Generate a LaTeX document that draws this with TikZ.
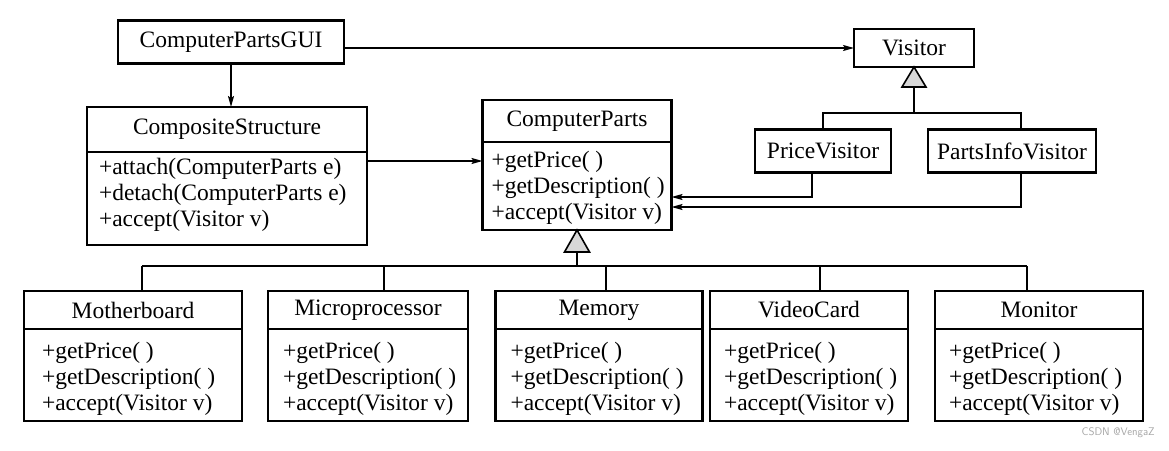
\documentclass[tikz,border=0pt]{standalone}
\usepackage{fontspec}
\setmainfont{Liberation Serif}
\usetikzlibrary{arrows.meta,calc}
\definecolor{trigray}{RGB}{215,215,215}
\tikzset{
  box/.style={draw, line width=2.2pt, fill=white, inner sep=0pt, outer sep=0pt},
  sepline/.style={line width=2pt},
  txt/.style={inner sep=0pt, outer sep=0pt, font=\fontsize{23.5}{26}\selectfont},
  conn/.style={line width=1.5pt},
  arr/.style={conn, -{Stealth[length=11pt,width=6pt,inset=2pt]}},
  tri/.style={draw, line width=1.6pt, fill=trigray, line join=miter},
  wmark/.style={inner sep=0pt, font=\sffamily\fontsize{11}{12}\selectfont, text=gray!70}
}
\newcommand\umlcls[9]{%
  \node[box, minimum width=#4, minimum height=#5] (#1) at (#2,#3) {};
  \draw[sepline] ($(#1.north west)+(0,#6)$) -- ($(#1.north east)+(0,#6)$);
  \node[txt] (#1-t) at ($(#1.north)+(0,#6/2)$) {#8};
  \foreach \m [count=\i] in {#9} {
    \pgfmathsetmacro\yy{67+(\i-1)*26}
    \node[txt, anchor=base west] (#1-m\i) at ($(#1.north west)+(#7,\yy)$) {\m};
  }%
}
\begin{document}
\begin{tikzpicture}[x=1pt,y=-1pt]
\useasboundingbox (0,0) rectangle (1169,450);
\fill[white] (0,0) rectangle (1169,450);

% simple classes
\node[box, minimum width=226, minimum height=43] (gui) at (231,42) {};
\node[txt] (gui-t) at (gui.center) {ComputerPartsGUI};
\node[box, minimum width=120, minimum height=38] (vis) at (914,48) {};
\node[txt] (vis-t) at (vis.center) {Visitor};
\node[box, minimum width=136, minimum height=43] (pv) at (823,151) {};
\node[txt] (pv-t) at (pv.center) {PriceVisitor};
\node[box, minimum width=168, minimum height=43] (piv) at (1012,151) {};
\node[txt] (piv-t) at (piv.center) {PartsInfoVisitor};

% classes with methods
\umlcls{cs}{227}{176}{280}{138}{45}{12}{CompositeStructure}{{+attach(ComputerParts e)},{+detach(ComputerParts e)},{+accept(Visitor v)}}
\umlcls{cp}{577}{165}{189}{130}{42}{9}{ComputerParts}{{+getPrice( )},{+getDescription( )},{+accept(Visitor v)}}
\umlcls{mb}{133}{356}{218}{130}{38}{18}{Motherboard}{{+getPrice( )},{+getDescription( )},{+accept(Visitor v)}}
\umlcls{mp}{368}{356}{200}{130}{38}{15}{Microprocessor}{{+getPrice( )},{+getDescription( )},{+accept(Visitor v)}}
\umlcls{mem}{599}{356}{207}{130}{38}{15}{Memory}{{+getPrice( )},{+getDescription( )},{+accept(Visitor v)}}
\umlcls{vc}{809}{356}{198}{130}{38}{14}{VideoCard}{{+getPrice( )},{+getDescription( )},{+accept(Visitor v)}}
\umlcls{mon}{1039}{356}{208}{130}{38}{14}{Monitor}{{+getPrice( )},{+getDescription( )},{+accept(Visitor v)}}

% associations
\draw[arr] (gui.south -| 231,0) -- (cs.north -| 231,0);
\draw[arr] (vis.west -| gui.east) -- (vis.west);
\coordinate (csy) at (0,161);
\draw[arr] (cs.east |- csy) -- (cp.west |- csy);

% visitor inheritance
\draw[tri] (vis.south) -- ++(-12,20) -- ++(24,0) -- cycle;
\coordinate (vtb) at ($(vis.south)+(0,20)$);
\coordinate (vbus) at (914,113);
\coordinate (pvtop) at (823,113);
\coordinate (pivtop) at (1021,113);
\draw[conn] (vtb) -- (vbus);
\draw[conn] (pv.north) -- (pvtop) -- (pivtop) -- (pivtop |- piv.north);

% visitor -> ComputerParts
\coordinate (pvd) at (812,197);
\coordinate (pivd) at (1021,207);
\draw[arr] (pv.south -| pvd) -- (pvd) -- (cp.east |- pvd);
\draw[arr] (piv.south -| pivd) -- (pivd) -- (cp.east |- pivd);

% parts inheritance
\draw[tri] (cp.south) -- ++(-12.5,22) -- ++(25,0) -- cycle;
\coordinate (cptb) at ($(cp.south)+(0,22)$);
\coordinate (bus) at (577,266);
\draw[conn] (cptb) -- (bus);
\coordinate (bl) at (142,266);
\coordinate (br) at (1027,266);
\draw[conn] (bl) -- (br);
\foreach \n/\x in {mb/142, mp/384, mem/606, vc/820, mon/1027} {
  \coordinate (t\n) at (\x,266);
  \draw[conn] (t\n) -- (t\n |- \n.north);
}

\node[wmark, anchor=east] (wm) at (1155,433) {CSDN @VengaZ};
\end{tikzpicture}
\end{document}
